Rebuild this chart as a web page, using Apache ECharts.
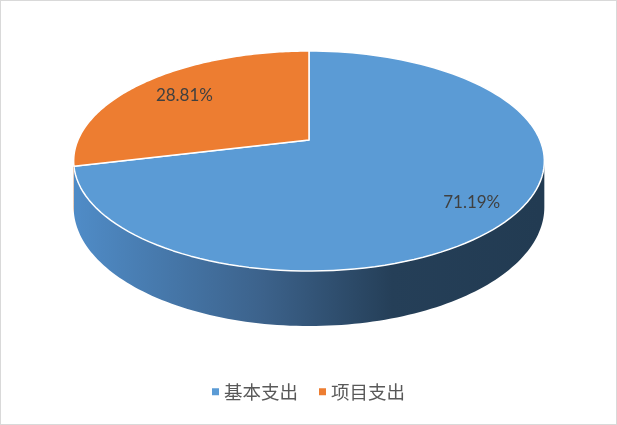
<!DOCTYPE html>
<html>
<head>
<meta charset="utf-8">
<script src="https://cdn.jsdelivr.net/npm/echarts@6/dist/echarts.min.js"></script>
<style>
    html, body { margin: 0; padding: 0; background: #fff; }
    #chart { width: 617px; height: 425px; box-sizing: border-box; border: 1px solid #d9d9d9; }
</style>
</head>
<body>
<div id="chart"></div>
<script>
'use strict';

// 数据
var categories = ['基本支出', '项目支出'];
var values = [71.19, 28.81];
var labels = ['71.19%', '28.81%'];

// 样式
var colors = ['#5b9bd5', '#ed7d31'];
var wallStops = [
    [[0, '#4f8bc6'], [0.4, '#3c628b'], [0.68, '#253f58'], [1, '#223b52']],
    [[0, '#c0631f'], [1, '#8a4516']]
];
var labelRadius = [0.81, 0.746];
var labelShiftY = [4, 0];

// 伪3D饼图的投影参数
var CX = 308, CY = 139, A = 231, B = 106, K = 0.191, H = 44.5;

function proj(phi, r, h) {
    var u = r * Math.sin(phi),
        v = -r * Math.cos(phi),
        s = 1 / (1 - K * v);
    return [CX + A * u * s, CY + B * v * s + h * s];
}

var total = values.reduce(function(a, b) { return a + b; }, 0);

function makeRender(idx) {
    return function(params, api) {
        var before = 0;
        for (var i = 0; i < idx; i++) before += values[i];
        var a0 = before / total * Math.PI * 2,
            a1 = (before + values[idx]) / total * Math.PI * 2,
            steps = 120, j, p;

        // 顶面
        var top = [[CX, CY]];
        for (j = 0; j <= steps; j++) {
            top.push(proj(a0 + (a1 - a0) * j / steps, 1, 0));
        }

        var children = [];

        // 侧面(只画朝向前方的部分)
        var sil = Math.acos(-K),
            w0 = Math.max(a0, sil),
            w1 = Math.min(a1, Math.PI * 2 - sil);
        if (w1 > w0) {
            var wall = [];
            for (j = 0; j <= steps; j++) wall.push(proj(w0 + (w1 - w0) * j / steps, 1, 0));
            for (j = steps; j >= 0; j--) wall.push(proj(w0 + (w1 - w0) * j / steps, 1, H));
            children.push({
                type: 'polygon',
                shape: { points: wall },
                style: {
                    fill: {
                        type: 'linear', x: CX - A, y: 0, x2: CX + A, y2: 0, global: true,
                        colorStops: wallStops[idx].map(function(s) { return { offset: s[0], color: s[1] }; })
                    }
                }
            });
        }

        children.push({
            type: 'polygon',
            shape: { points: top },
            style: { fill: colors[idx], stroke: '#ffffff', lineWidth: 1.5, lineJoin: 'round' }
        });

        // 数据标签
        p = proj((a0 + a1) / 2, labelRadius[idx], 0);
        children.push({
            type: 'text',
            style: {
                text: labels[idx], x: p[0], y: p[1] + labelShiftY[idx],
                align: 'center', verticalAlign: 'middle',
                fill: '#404040', fontSize: 17, fontFamily: 'Lato'
            }
        });

        return { type: 'group', children: children };
    };
}

var myChart = echarts.init(document.getElementById('chart'));

var option = {
    animation: false,
    legend: {
        data: categories,
        bottom: 18,
        left: 'center',
        icon: 'rect',
        itemWidth: 7,
        itemHeight: 7,
        itemGap: 21,
        textStyle: { color: '#595959', fontSize: 18.5, fontFamily: 'Noto Sans CJK SC' }
    },
    series: categories.map(function(name, i) {
        return {
            type: 'custom',
            name: name,
            coordinateSystem: 'none',
            silent: true,
            itemStyle: { color: colors[i] },
            data: [values[i]],
            renderItem: makeRender(i)
        };
    })
};

myChart.setOption(option);
</script>
</body>
</html>
